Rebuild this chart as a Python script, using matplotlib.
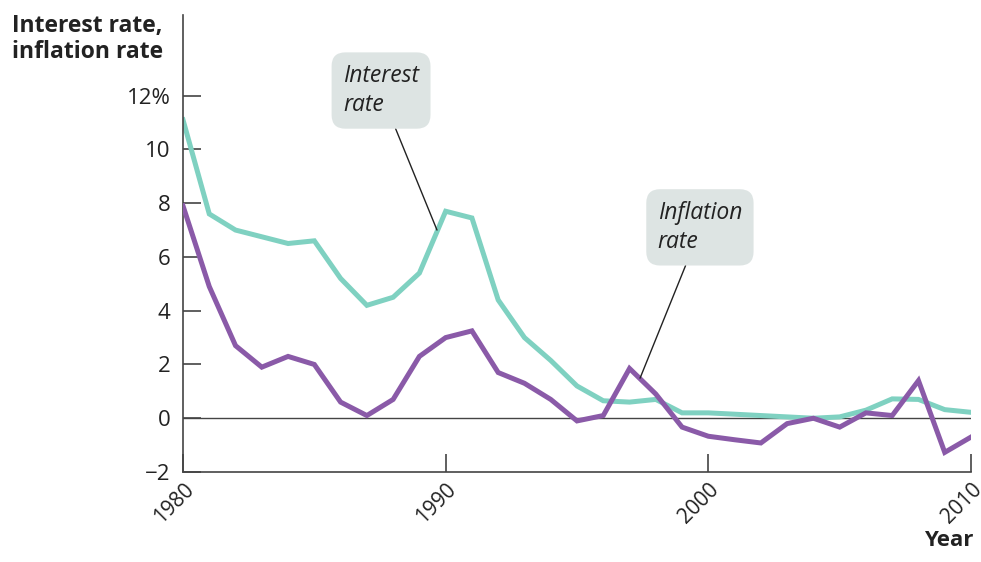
#!/usr/bin/env python3
import matplotlib
matplotlib.use("Agg")
import matplotlib.pyplot as plt

years = list(range(1980, 2011))
interest = [11.1, 7.6, 7.0, 6.75, 6.5, 6.6, 5.2, 4.2, 4.5, 5.4,
            7.7, 7.45, 4.4, 3.0, 2.15, 1.2, 0.65, 0.6, 0.7, 0.2,
            0.2, 0.15, 0.1, 0.05, 0.0, 0.05, 0.3, 0.72, 0.7, 0.32,
            0.22]
inflation = [7.9, 4.9, 2.7, 1.9, 2.3, 2.0, 0.6, 0.1, 0.7, 2.3,
             3.0, 3.25, 1.7, 1.3, 0.7, -0.1, 0.1, 1.85, 0.9, -0.33,
             -0.67, -0.8, -0.92, -0.2, 0.0, -0.33, 0.2, 0.1, 1.4, -1.27,
             -0.7]
y_ticks = [-2, 0, 2, 4, 6, 8, 10, 12]
y_labels = ["\u22122", "0", "2", "4", "6", "8", "10", "12%"]
x_ticks = [1980, 1990, 2000, 2010]

TEAL = "#7fd1c1"
PURPLE = "#8a5aa8"
BOX = "#dde4e3"
INK = "#222222"

plt.rcParams["font.family"] = ["Open Sans", "DejaVu Sans"]

fig = plt.figure(figsize=(9.81, 5.62), dpi=100)
ax = fig.add_axes([183 / 981, 1 - 472 / 562, (971 - 183) / 981, (472 - 15) / 562])

ax.axhline(0, color="#444444", lw=1.0, zorder=1)
ax.plot(years, interest, color=TEAL, lw=3.6, solid_joinstyle="miter", zorder=2)
ax.plot(years, inflation, color=PURPLE, lw=3.6, solid_joinstyle="miter", zorder=3)

ax.set_xlim(1980, 2010)
ax.set_ylim(-2, 15)
ax.set_yticks(y_ticks)
ax.set_yticklabels(y_labels, fontsize=16, color=INK)
ax.set_xticks(x_ticks)
ax.set_xticklabels([str(x) for x in x_ticks], rotation=45, ha="right",
                   rotation_mode="anchor", fontsize=15, color=INK)
ax.tick_params(axis="y", direction="in", length=13, width=1.2, color="#444444", pad=9)
ax.tick_params(axis="x", direction="in", length=13, width=1.2, color="#444444", pad=5)

for s in ["top", "right"]:
    ax.spines[s].set_visible(False)
for s in ["left", "bottom"]:
    ax.spines[s].set_color("#444444")
    ax.spines[s].set_linewidth(1.2)

fig.text(12 / 981, 1 - 39 / 562, "Interest rate,\ninflation rate", fontsize=16.5,
         fontweight="bold", color=INK, va="center", ha="left", linespacing=1.15)
fig.text(973 / 981, 1 - 541 / 562, "Year", fontsize=16, fontweight="bold",
         color=INK, ha="right", va="center")

box = dict(boxstyle="round,pad=0.5,rounding_size=0.6", fc=BOX, ec="none")
ax.annotate("Interest\nrate", xy=(1989.67, 7.0), xytext=(1987.54, 12.19),
            fontsize=16.5, style="italic", color=INK, ha="center", va="center",
            multialignment="left", bbox=box, linespacing=1.3,
            arrowprops=dict(arrowstyle="-", color=INK, lw=1.0,
                            relpos=(0.63, 0.0), shrinkA=0, shrinkB=0))
ax.annotate("Inflation\nrate", xy=(1997.4, 1.49), xytext=(1999.68, 7.1),
            fontsize=16.5, style="italic", color=INK, ha="center", va="center",
            multialignment="left", bbox=box, linespacing=1.3,
            arrowprops=dict(arrowstyle="-", color=INK, lw=1.0,
                            relpos=(0.385, 0.0), shrinkA=0, shrinkB=0))

fig.savefig("out.png", dpi=100)
plt.close(fig)
